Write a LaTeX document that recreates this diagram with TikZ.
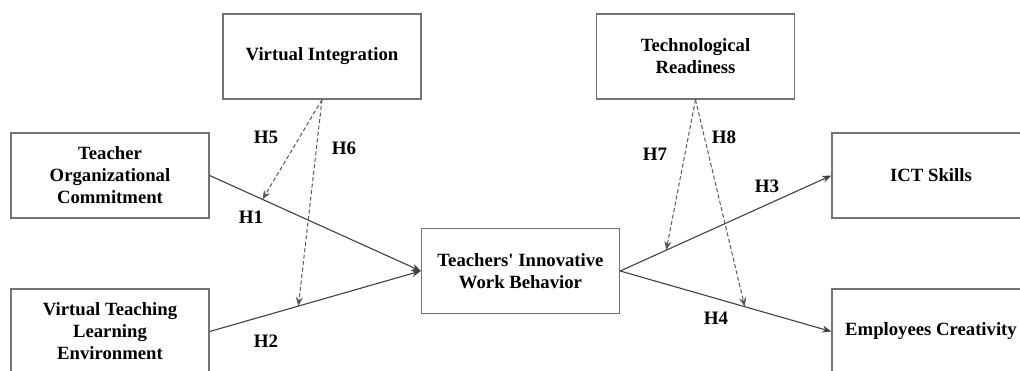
\documentclass[tikz,border=0pt]{standalone}
\usepackage{fontspec}
\setmainfont{Liberation Serif}
\usetikzlibrary{arrows.meta,calc}
\begin{document}
\begin{tikzpicture}[x=1pt,y=-1pt,
  box/.style={draw=black!55,line width=1.4pt,fill=white,minimum width=198pt,minimum height=85pt,inner sep=0pt,align=center,
    font=\fontsize{18.7}{22}\selectfont\bfseries,text=black},
  path/.style={draw=black!75,line width=1.1pt,-{Stealth[length=9pt,width=7pt]}},
  mod/.style={draw=black!65,line width=1pt,dash pattern=on 4pt off 2.5pt,-{Stealth[length=9pt,width=7pt]}},
  hlab/.style={font=\fontsize{19}{22}\selectfont\bfseries,text=black,inner sep=0pt}]
\useasboundingbox (0,0) rectangle (1020,370);
\clip (0,0) rectangle (1020,370);
\fill[white] (0,0) rectangle (1020,370);
\node[box] (VI) at (322,56.5) {Virtual Integration};
\node[box] (TOC) at (110,175.5) {Teacher\\Organizational\\Commitment};
\node[box] (VTLE) at (110,331.5) {Virtual Teaching\\Learning\\Environment};
\node[box] (TIWB) at (520.5,271) {Teachers\textquotesingle{} Innovative\\Work Behavior};
\node[box] (TR) at (695.5,56.5) {Technological\\Readiness};
\node[box] (ICT) at (931,175.5) {ICT Skills};
\node[box] (EC) at (931,331.5) {Employees Creativity};
\draw[path] (TOC.east) -- (TIWB.west);
\draw[path] (VTLE.east) -- (TIWB.west);
\draw[path] (TIWB.east) -- (ICT.west);
\draw[path] (TIWB.east) -- (EC.west);
\coordinate (m5) at ($(TOC.east)!0.25!(TIWB.west)$);
\coordinate (m6) at ($(VTLE.east)!0.42!(TIWB.west)$);
\coordinate (m7) at ($(TIWB.east)!0.218!(ICT.west)$);
\coordinate (m8) at ($(TIWB.east)!0.59!(EC.west)$);
\draw[mod] (VI.south) -- (m5);
\draw[mod] (VI.south) -- (m6);
\draw[mod] (TR.south) -- (m7);
\draw[mod] (TR.south) -- (m8);
\node[hlab] (h1) at (251,217) {H1};
\node[hlab] (h2) at (266,341) {H2};
\node[hlab] (h3) at (767,186) {H3};
\node[hlab] (h4) at (716,318) {H4};
\node[hlab] (h5) at (266,137) {H5};
\node[hlab] (h6) at (344,148) {H6};
\node[hlab] (h7) at (655,154) {H7};
\node[hlab] (h8) at (724,137) {H8};
\end{tikzpicture}
\end{document}
